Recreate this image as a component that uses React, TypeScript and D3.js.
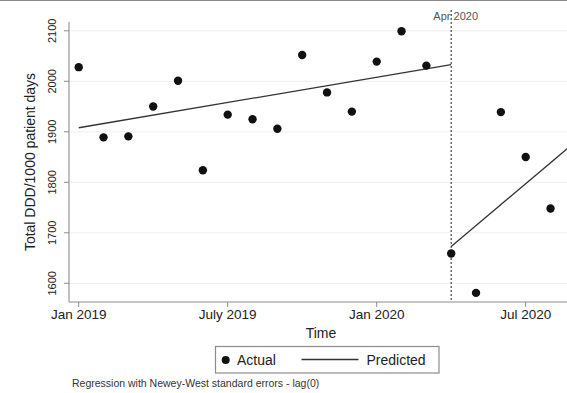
import React from "react";
import * as d3 from "d3";

const monthIndex = [0, 1, 2, 3, 4, 5, 6, 7, 8, 9, 10, 11, 12, 13, 14, 15, 16, 17, 18, 19];
const actualValues = [2028, 1889, 1891, 1950, 2001, 1824, 1934, 1925, 1906, 2052, 1978, 1940, 2039, 2099, 2031, 1659, 1581, 1939, 1850, 1748];
const prePredMonths = [0, 15];
const prePredValues = [1908, 2033];
const postPredMonths = [15, 20];
const postPredValues = [1673, 1880];
const yTicks = [1600, 1700, 1800, 1900, 2000, 2100];
const xTickMonths = [0, 6, 12, 18];
const xTickLabels = ["Jan 2019", "July 2019", "Jan 2020", "Jul 2020"];
const interventionMonth = 15;
const interventionLabel = "Apr 2020";

const W = 567;
const H = 393;
const FONT = "'Liberation Sans', Arial, Helvetica, sans-serif";

export default function App() {
  const plotLeft = 69;
  const plotRight = 575;
  const plotTop = 22;
  const plotBottom = 302;

  const x = d3.scaleLinear().domain([0, 18]).range([78.7, 525.7]);
  const y = d3.scaleLinear().domain([1600, 2100]).range([283.3, 30.8]);

  const line = d3
    .line<[number, number]>()
    .x((d) => x(d[0]))
    .y((d) => y(d[1]));

  const prePts: [number, number][] = prePredMonths.map((m, i) => [m, prePredValues[i]]);
  const postPts: [number, number][] = postPredMonths.map((m, i) => [m, postPredValues[i]]);

  const axisColor = "#8c8c8c";
  const xi = x(interventionMonth);

  return (
    <svg
      width={W}
      height={H}
      style={{ position: "absolute", left: 0, top: 0, background: "#fff" }}
      fontFamily={FONT}
    >
      <rect x={0} y={0} width={W} height={H} fill="#fff" />
      <line x1={0} x2={W} y1={0.5} y2={0.5} stroke="#8a8a8a" strokeWidth={1.2} />
      <defs>
        <clipPath id="plotclip">
          <rect x={plotLeft} y={plotTop} width={plotRight - plotLeft} height={plotBottom - plotTop} />
        </clipPath>
      </defs>

      {/* gridlines */}
      {yTicks.map((t) => (
        <line key={"g" + t} x1={plotLeft} x2={plotRight} y1={y(t)} y2={y(t)} stroke="#efefef" strokeWidth={1} />
      ))}

      {/* axes */}
      <line x1={plotLeft} x2={plotLeft} y1={plotTop} y2={plotBottom} stroke={axisColor} strokeWidth={1.1} />
      <line x1={plotLeft} x2={plotRight} y1={plotBottom} y2={plotBottom} stroke={axisColor} strokeWidth={1.1} />

      {yTicks.map((t) => (
        <g key={"yt" + t}>
          <line x1={plotLeft - 5} x2={plotLeft} y1={y(t)} y2={y(t)} stroke={axisColor} strokeWidth={1} />
          <text
            transform={`translate(55.5,${y(t)}) rotate(-90)`}
            textAnchor="middle"
            fontSize={11}
            fill="#222"
          >
            {t}
          </text>
        </g>
      ))}

      {xTickMonths.map((m, i) => (
        <g key={"xt" + m}>
          <line x1={x(m)} x2={x(m)} y1={plotBottom} y2={plotBottom + 5} stroke={axisColor} strokeWidth={1} />
          <text x={x(m)} y={319} textAnchor="middle" fontSize={13.5} fill="#222">
            {xTickLabels[i]}
          </text>
        </g>
      ))}

      <text x={(plotLeft + 573) / 2} y={338} textAnchor="middle" fontSize={14} fill="#222">
        Time
      </text>
      <text transform={`translate(35,162) rotate(-90)`} textAnchor="middle" fontSize={14} fill="#222">
        Total DDD/1000 patient days
      </text>

      {/* intervention line */}
      <line x1={xi} x2={xi} y1={plotTop - 12} y2={plotBottom} stroke="#444" strokeWidth={1.2} strokeDasharray="2,2" />
      <text x={xi + 4.5} y={20} textAnchor="middle" fontSize={11} fill="#555">
        {interventionLabel}
      </text>

      <g clipPath="url(#plotclip)">
        <path d={line(prePts) || ""} fill="none" stroke="#333" strokeWidth={1.3} />
        <path d={line(postPts) || ""} fill="none" stroke="#333" strokeWidth={1.3} />
        {monthIndex.map((m, i) => (
          <circle key={"p" + m} cx={x(m)} cy={y(actualValues[i])} r={4.2} fill="#111" />
        ))}
      </g>

      {/* legend */}
      <rect x={215.5} y={346.5} width={223.5} height={26.5} fill="#fff" stroke="#8c8c8c" strokeWidth={1.2} />
      <circle cx={225.7} cy={360} r={4} fill="#111" />
      <text x={237} y={365} fontSize={14} fill="#222">
        Actual
      </text>
      <line x1={301.5} x2={358.5} y1={359.5} y2={359.5} stroke="#333" strokeWidth={1.3} />
      <text x={366.5} y={365} fontSize={14} fill="#222">
        Predicted
      </text>

      <text x={72} y={387} fontSize={10.5} fill="#333">
        Regression with Newey-West standard errors - lag(0)
      </text>
    </svg>
  );
}
